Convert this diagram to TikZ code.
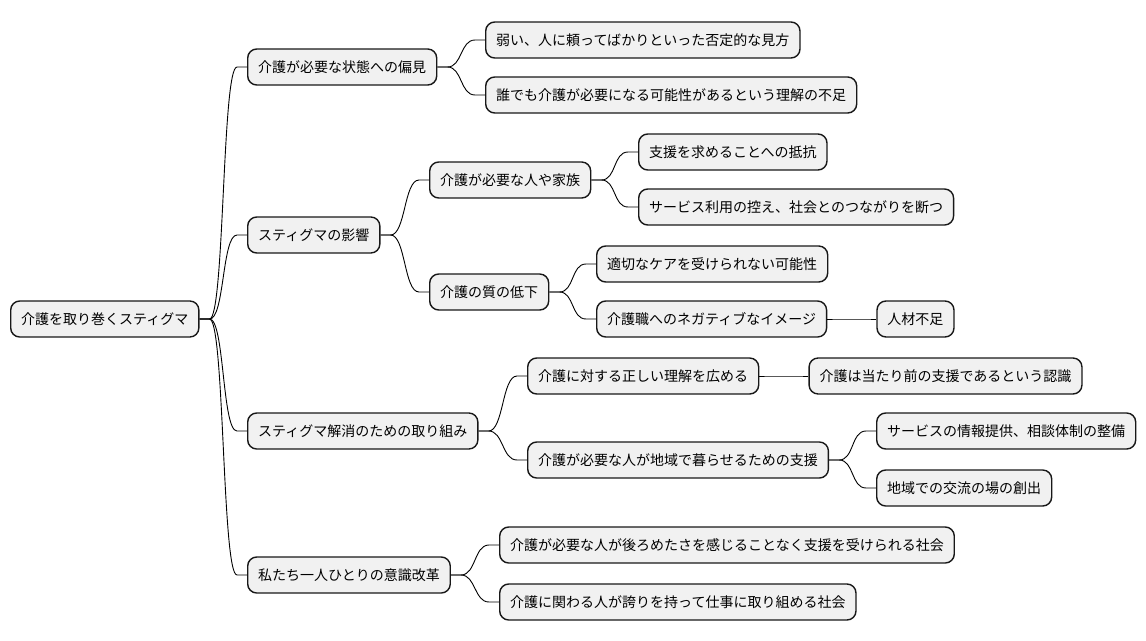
\documentclass[tikz,border=0pt]{standalone}
\usepackage{fontspec}
\newfontfamily\jpfont{Noto Sans CJK JP}
\usetikzlibrary{positioning}
\definecolor{boxfill}{HTML}{F1F1F1}
\definecolor{boxline}{HTML}{181818}
\begin{document}
\begin{tikzpicture}[x = 1pt, y = -1pt, node distance = 49pt,
  topic/.style = {draw = boxline, fill = boxfill, line width = 1.4pt, rounded corners = 9pt, anchor = west, minimum height = 36pt, inner xsep = 10.5pt, font = \jpfont\fontsize{14}{16}\selectfont},
  branch/.style = {line width = 0.9pt, to path = {-- ++(10pt,0) .. controls +(15pt,0) and +(-15pt,0) .. ([xshift=-10pt]\tikztotarget) -- (\tikztotarget)}}]
			\useasboundingbox (0,0) rectangle (1146,640);
			\node[topic] (root) at (10,319) {介護を取り巻くスティグマ};
			\node[topic] (bias) at (247,67) {介護が必要な状態への偏見};
			\node[topic] (effect) at (247,235) {スティグマの影響};
			\node[topic] (action) at (247,431) {スティグマ解消のための取り組み};
			\node[topic] (mind) at (247,575) {私たち一人ひとりの意識改革};
			\node[topic] (weak) at (485,40) {弱い、人に頼ってばかりといった否定的な見方};
			\node[topic] (lack) at (485,95) {誰でも介護が必要になる可能性があるという理解の不足};
			\node[topic] (family) at (429,180) {介護が必要な人や家族};
			\node[topic] (quality) at (429,292) {介護の質の低下};
			\node[topic] (resist) at (638,152) {支援を求めることへの抵抗};
			\node[topic] (refrain) at (638,207) {サービス利用の控え、社会とのつながりを断つ};
			\node[topic] (care) at (596,264) {適切なケアを受けられない可能性};
			\node[topic] (image) at (596,319) {介護職へのネガティブなイメージ};
			\node[topic, right = of image] (staff) {人材不足};
			\node[topic] (spread) at (527,376) {介護に対する正しい理解を広める};
			\node[topic, right = of spread] (normal) {介護は当たり前の支援であるという認識};
			\node[topic] (local) at (527,460) {介護が必要な人が地域で暮らせるための支援};
			\node[topic] (info) at (876,431) {サービスの情報提供、相談体制の整備};
			\node[topic] (place) at (876,488) {地域での交流の場の創出};
			\node[topic] (society) at (499,545) {介護が必要な人が後ろめたさを感じることなく支援を受けられる社会};
			\node[topic] (pride) at (499,602) {介護に関わる人が誇りを持って仕事に取り組める社会};
			\draw[branch] (root.east) to (bias.west);
			\draw[branch] (root.east) to (effect.west);
			\draw[branch] (root.east) to (action.west);
			\draw[branch] (root.east) to (mind.west);
			\draw[branch] (bias.east) to (weak.west);
			\draw[branch] (bias.east) to (lack.west);
			\draw[branch] (effect.east) to (family.west);
			\draw[branch] (effect.east) to (quality.west);
			\draw[branch] (family.east) to (resist.west);
			\draw[branch] (family.east) to (refrain.west);
			\draw[branch] (quality.east) to (care.west);
			\draw[branch] (quality.east) to (image.west);
			\draw[branch] (image.east) to (staff.west);
			\draw[branch] (action.east) to (spread.west);
			\draw[branch] (action.east) to (local.west);
			\draw[branch] (spread.east) to (normal.west);
			\draw[branch] (local.east) to (info.west);
			\draw[branch] (local.east) to (place.west);
			\draw[branch] (mind.east) to (society.west);
			\draw[branch] (mind.east) to (pride.west);
		\end{tikzpicture}
\end{document}
